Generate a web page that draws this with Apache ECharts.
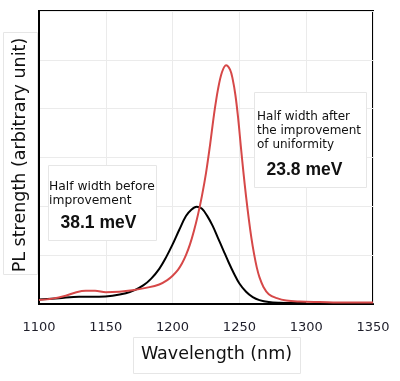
<!DOCTYPE html>
<html>
<head>
<meta charset="utf-8">
<script src="https://cdn.jsdelivr.net/npm/echarts@6/dist/echarts.min.js"></script>
<style>html,body{margin:0;padding:0;background:#fff;}#c{width:400px;height:381px;}</style>
</head>
<body>
<div id="c"></div>
<script>
// Data (wavelength nm, PL strength arbitrary units)
var xTicks = [1100, 1150, 1200, 1250, 1300, 1350];
var beforeSeries = [[1100,0.09],[1115,0.12],[1130,0.15],[1145,0.15],[1155,0.17],[1165,0.22],[1172,0.29],[1178,0.38],[1184,0.52],[1190,0.72],[1195,0.95],[1200,1.22],[1205,1.52],[1210,1.8],[1214,1.93],[1218,1.99],[1222,1.95],[1226,1.8],[1230,1.6],[1234,1.35],[1238,1.1],[1242,0.85],[1246,0.62],[1250,0.42],[1255,0.25],[1260,0.14],[1265,0.08],[1272,0.04],[1280,0.025],[1290,0.02],[1300,0.02]];
var afterSeries = [[1100,0.08],[1110,0.11],[1120,0.17],[1128,0.24],[1135,0.27],[1142,0.27],[1150,0.24],[1160,0.25],[1170,0.28],[1180,0.33],[1190,0.40],[1196,0.49],[1200,0.58],[1204,0.7],[1207,0.83],[1210,1.0],[1213,1.22],[1216,1.5],[1219,1.83],[1222,2.22],[1225,2.68],[1228,3.25],[1231,3.88],[1234,4.4],[1237,4.75],[1240,4.89],[1243,4.8],[1245,4.6],[1247,4.28],[1249,3.82],[1251,3.25],[1253,2.7],[1255,2.2],[1257,1.75],[1259,1.35],[1261,1.02],[1263,0.75],[1265,0.55],[1268,0.35],[1272,0.2],[1278,0.12],[1285,0.07],[1295,0.05],[1310,0.04],[1330,0.03],[1350,0.03]];
var xAxisName = 'Wavelength (nm)';
var yAxisName = 'PL strength (arbitrary unit)';
var noteBefore = ['Half width before', 'improvement'];
var valueBefore = '38.1 meV';
var noteAfter = ['Half width after', 'the improvement', 'of uniformity'];
var valueAfter = '23.8 meV';

var chart = echarts.init(document.getElementById('c'), null, {renderer: 'canvas'});
var FONT = 'DejaVu Sans';
var boxStyle = {fill: '#fff', stroke: '#e6e6e6', lineWidth: 1};
var graphics = [
  {type: 'rect', z: 1, shape: {x: 48.5, y: 165.5, width: 108, height: 75}, style: boxStyle},
  {type: 'rect', z: 1, shape: {x: 254.5, y: 92.5, width: 112, height: 95}, style: boxStyle},
  {type: 'rect', z: 1, shape: {x: 133.5, y: 337.5, width: 167, height: 36}, style: boxStyle},
  {type: 'rect', z: 1, shape: {x: 3.5, y: 32.5, width: 34, height: 242}, style: boxStyle}
];
noteBefore.forEach(function (t, i) {
  graphics.push({type: 'text', z: 5, x: 49, y: 187.3 + i * 13.5, style: {text: t, font: '12.3px "' + FONT + '"', fill: '#111', textVerticalAlign: 'middle'}});
});
graphics.push({type: 'text', z: 5, x: 60.5, y: 222.7, style: {text: valueBefore, font: 'bold 17.5px "Liberation Sans"', fill: '#111', textVerticalAlign: 'middle'}});
noteAfter.forEach(function (t, i) {
  graphics.push({type: 'text', z: 5, x: 257, y: 117.3 + i * 13.8, style: {text: t, font: '12px "' + FONT + '"', fill: '#111', textVerticalAlign: 'middle'}});
});
graphics.push({type: 'text', z: 5, x: 266.5, y: 170.4, style: {text: valueAfter, font: 'bold 17.5px "Liberation Sans"', fill: '#111', textVerticalAlign: 'middle'}});
graphics.push({type: 'text', z: 5, x: 216.5, y: 354, style: {text: xAxisName, font: '17.5px "' + FONT + '"', fill: '#111', textAlign: 'center', textVerticalAlign: 'middle'}});
graphics.push({type: 'text', z: 5, x: 20.5, y: 155, rotation: Math.PI / 2, style: {text: yAxisName, font: '17.5px "' + FONT + '"', fill: '#111', textAlign: 'center', textVerticalAlign: 'middle'}});

chart.setOption({
  animation: false,
  backgroundColor: '#fff',
  grid: {left: 39, top: 11, width: 334, height: 293, show: true, borderColor: '#000', borderWidth: 2, backgroundColor: 'transparent'},
  xAxis: {
    type: 'value', min: xTicks[0], max: xTicks[xTicks.length - 1], interval: 50,
    axisLine: {show: true, lineStyle: {color: '#000', width: 2}},
    axisTick: {show: false},
    axisLabel: {fontFamily: FONT, fontSize: 13, color: '#1e1e2a', margin: 17, formatter: function (v) { return String(v); }},
    splitLine: {show: true, lineStyle: {color: '#ebebeb', width: 1}}
  },
  yAxis: {
    type: 'value', min: 0, max: 6, interval: 1,
    axisLine: {show: true, lineStyle: {color: '#000', width: 2}},
    axisTick: {show: false},
    axisLabel: {show: false},
    splitLine: {show: true, lineStyle: {color: '#ebebeb', width: 1}}
  },
  graphic: graphics,
  series: [
    {type: 'line', data: beforeSeries, smooth: 0.35, showSymbol: false, z: 3, lineStyle: {color: '#000', width: 2}},
    {type: 'line', data: afterSeries, smooth: 0.35, showSymbol: false, z: 4, lineStyle: {color: '#d64848', width: 2}}
  ]
});
</script>
</body>
</html>
